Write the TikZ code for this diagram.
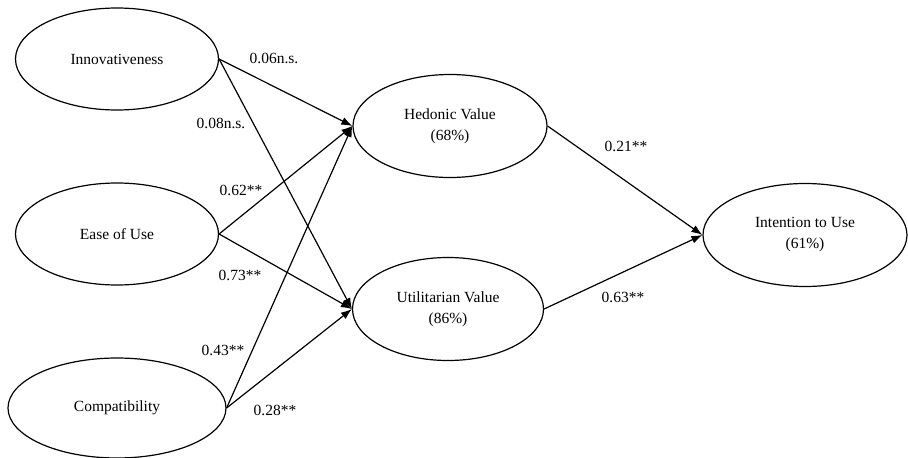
\documentclass[tikz,border=0pt]{standalone}
\usepackage{fontspec}
\setmainfont{Liberation Serif}
\usetikzlibrary{shapes.geometric,arrows.meta}

\tikzstyle{construct}=[draw, ellipse, line width=1.2pt, inner sep=0pt, align=center, font=\fontsize{15.5}{21}\selectfont]
\tikzstyle{coef}=[inner sep=0pt, font=\fontsize{15.5}{19}\selectfont]
\tikzstyle{path}=[line width=1.2pt, -{Latex[length=11pt,width=8pt]}]

\begin{document}
\begin{tikzpicture}[x=1pt, y=-1pt]
      \useasboundingbox (0,0) rectangle (908,458);
      \node[construct, minimum width=203pt, minimum height=102pt] (inno) at (117, 59) {Innovativeness};
      \node[construct, minimum width=203pt, minimum height=102pt] (ease) at (117, 234) {Ease of Use};
      \node[construct, minimum width=218pt, minimum height=100pt] (comp) at (117, 408) {Compatibility};
      \node[construct, minimum width=194pt, minimum height=103pt] (hed) at (450, 126) {Hedonic Value\\(68\%)};
      \node[construct, minimum width=191pt, minimum height=103pt] (uti) at (448, 309) {Utilitarian Value\\(86\%)};
      \node[construct, minimum width=204pt, minimum height=103pt] (int) at (805, 235) {Intention to Use\\(61\%)};

      \draw[path] (inno.east) to (hed.west);
      \draw[path] (inno.east) to (uti.west);
      \draw[path] (ease.east) to (hed.west);
      \draw[path] (ease.east) to (uti.west);
      \draw[path] (comp.east) to (hed.west);
      \draw[path] (comp.east) to (uti.west);
      \draw[path] (hed.east) to (int.west);
      \draw[path] (uti.east) to (int.west);

      \node[coef] (c1) at (274, 58) {0.06n.s.};
      \node[coef] (c2) at (221, 123) {0.08n.s.};
      \node[coef] (c3) at (241, 190) {0.62**};
      \node[coef] (c4) at (240, 275) {0.73**};
      \node[coef] (c5) at (223, 350) {0.43**};
      \node[coef] (c6) at (275, 410) {0.28**};
      \node[coef] (c7) at (626, 146) {0.21**};
      \node[coef] (c8) at (623, 297) {0.63**};
    \end{tikzpicture}
\end{document}
